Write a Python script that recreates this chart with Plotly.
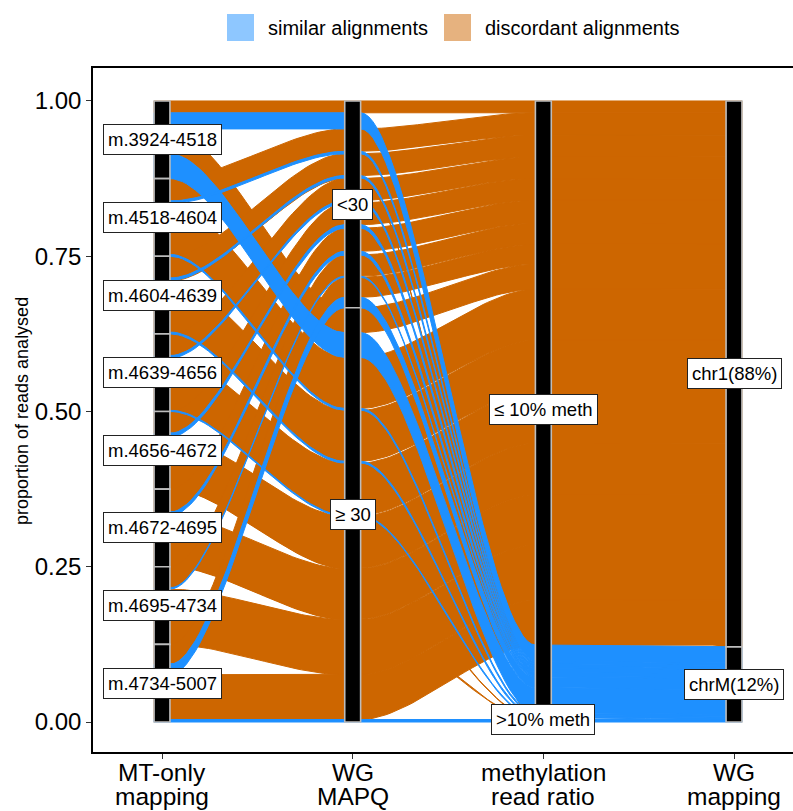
import numpy as np
import plotly.graph_objects as go

# ---------------- data ----------------
regions = ["m.3924-4518", "m.4518-4604", "m.4604-4639", "m.4639-4656",
           "m.4656-4672", "m.4672-4695", "m.4695-4734", "m.4734-5007"]
mapq_levels = ["<30", "≥ 30"]
meth_levels = ["≤ 10% meth", ">10% meth"]
chr_levels = ["chr1", "chrM"]
axis_titles = [["MT-only", "mapping"], ["WG", "MAPQ"], ["methylation", "read ratio"], ["WG", "mapping"]]
y_ticks = [0.0, 0.25, 0.5, 0.75, 1.0]
y_tick_text = ["0.00", "0.25", "0.50", "0.75", "1.00"]
legend_labels = ["similar alignments", "discordant alignments"]

# one entry per alluvium (region, MAPQ, methylation, WG chromosome, proportion)
alluvium_region = [0, 0, 0, 0,
                   1, 1, 1, 1,
                   2, 2, 2, 2, 2,
                   3, 3, 3, 3,
                   4, 4, 4, 4,
                   5, 5, 5, 5,
                   6, 6, 6,
                   7, 7, 7, 7]
alluvium_mapq = ["<30", "<30", "≥ 30", "≥ 30",
                 "<30", "<30", "≥ 30", "≥ 30",
                 "<30", "<30", "<30", "≥ 30", "≥ 30",
                 "<30", "<30", "≥ 30", "≥ 30",
                 "<30", "<30", "≥ 30", "≥ 30",
                 "<30", "<30", "≥ 30", "≥ 30",
                 "<30", "<30", "≥ 30",
                 "<30", "<30", "≥ 30", "≥ 30"]
alluvium_meth = ["≤ 10% meth", "≤ 10% meth", "≤ 10% meth", "≤ 10% meth",
                 "≤ 10% meth", "≤ 10% meth", "≤ 10% meth", "≤ 10% meth",
                 "≤ 10% meth", "≤ 10% meth", ">10% meth", "≤ 10% meth", "≤ 10% meth",
                 "≤ 10% meth", "≤ 10% meth", "≤ 10% meth", "≤ 10% meth",
                 "≤ 10% meth", "≤ 10% meth", "≤ 10% meth", ">10% meth",
                 "≤ 10% meth", "≤ 10% meth", "≤ 10% meth", ">10% meth",
                 "≤ 10% meth", "≤ 10% meth", "≤ 10% meth",
                 "≤ 10% meth", "≤ 10% meth", "≤ 10% meth", ">10% meth"]
alluvium_chr = ["chr1", "chrM", "chr1", "chrM",
                "chr1", "chrM", "chr1", "chrM",
                "chr1", "chrM", "chr1", "chr1", "chrM",
                "chr1", "chrM", "chr1", "chrM",
                "chr1", "chrM", "chr1", "chr1",
                "chr1", "chrM", "chr1", "chr1",
                "chr1", "chrM", "chr1",
                "chr1", "chrM", "chr1", "chrM"]
alluvium_prop = [0.019, 0.026, 0.040, 0.040,
                 0.036, 0.004, 0.082, 0.003,
                 0.035, 0.004, 0.001, 0.082, 0.003,
                 0.035, 0.004, 0.084, 0.002,
                 0.035, 0.006, 0.083, 0.001,
                 0.037, 0.006, 0.081, 0.001,
                 0.034, 0.002, 0.089,
                 0.032, 0.017, 0.072, 0.004]

# ---------------- styling ----------------
COL_SIM = "#1E90FF"
COL_DIS = "#CD6600"
KEY_SIM = "#8EC7FF"
KEY_DIS = "#E6B27F"
FONT = "Liberation Sans, Arial, sans-serif"
W, H = 793, 811
ML, MR, MT, MB = 93, 0, 68, 59
X_RANGE = [0.6381, 4.3094]
Y_RANGE = [-0.0483, 1.0531]
STRATUM_W = 1 / 12

# ---------------- lode positions (ggalluvial-like zigzag ordering) ----------------
levels = [regions, mapq_levels, meth_levels, chr_levels]
idx = np.array([[alluvium_region[a], mapq_levels.index(alluvium_mapq[a]),
                 meth_levels.index(alluvium_meth[a]), chr_levels.index(alluvium_chr[a])]
                for a in range(len(alluvium_prop))])
w = np.array(alluvium_prop)
N, NA = len(w), 4


def zigzag(n, i):
    r1, r2 = i, n - 1 - i
    order = [i]
    left, right = i - 1, i + 1
    right_first = r1 > r2
    while left >= 0 or right < n:
        if right_first:
            if right < n:
                order.append(right); right += 1
            if left >= 0:
                order.append(left); left -= 1
        else:
            if left >= 0:
                order.append(left); left -= 1
            if right < n:
                order.append(right); right += 1
    return order


ymax = np.zeros((N, NA))
ymin = np.zeros((N, NA))
for i in range(NA):
    ax_order = zigzag(NA, i)
    order = sorted(range(N), key=lambda a: tuple(idx[a][j] for j in ax_order) + (a,))
    top = 1.0
    for a in order:
        ymax[a, i] = top
        top -= w[a]
        ymin[a, i] = top


def curve(x0, y0, x1, y1, k=0.3, n=40):
    t = np.linspace(0, 1, n)
    dx = x1 - x0
    px = [x0, x0 + k * dx, x1 - k * dx, x1]
    py = [y0, y0, y1, y1]
    bx = (1 - t) ** 3 * px[0] + 3 * (1 - t) ** 2 * t * px[1] + 3 * (1 - t) * t ** 2 * px[2] + t ** 3 * px[3]
    by = (1 - t) ** 3 * py[0] + 3 * (1 - t) ** 2 * t * py[1] + 3 * (1 - t) * t ** 2 * py[2] + t ** 3 * py[3]
    return list(bx), list(by)


def edge(ys):
    xs_out, ys_out = [], []
    hw = STRATUM_W / 2
    for i in range(NA):
        xs_out += [i + 1 - hw, i + 1 + hw]
        ys_out += [ys[i], ys[i]]
        if i < NA - 1:
            cx, cy = curve(i + 1 + hw, ys[i], i + 2 - hw, ys[i + 1])
            xs_out += cx[1:-1]
            ys_out += cy[1:-1]
    return xs_out, ys_out


fig = go.Figure()
# draw discordant first, similar on top
for chrom_i in [0, 1]:
    for a in range(N):
        if idx[a][3] != chrom_i:
            continue
        tx, ty = edge(ymax[a])
        bx, by = edge(ymin[a])
        xs = tx + bx[::-1] + [tx[0]]
        ys = ty + by[::-1] + [ty[0]]
        col = COL_SIM if chrom_i == 1 else COL_DIS
        fig.add_trace(go.Scatter(x=xs, y=ys, fill="toself", mode="lines",
                                 line=dict(color=col, width=1.0),
                                 fillcolor=col, hoverinfo="skip", showlegend=False))

# strata and their labels
shapes = []
annotations = []
hw = STRATUM_W / 2
for i in range(NA):
    for s, lev in enumerate(levels[i]):
        m = idx[:, i] == s
        if not m.any():
            continue
        lo, hi = ymin[m, i].min(), ymax[m, i].max()
        shapes.append(dict(type="rect", xref="x", yref="y", x0=i + 1 - hw, x1=i + 1 + hw,
                           y0=lo, y1=hi, fillcolor="black",
                           line=dict(color="#BDBDBD", width=1.6), layer="above"))
        label = lev
        if i == 3:
            label = f"{lev}({round(100 * w[m].sum()):d}%)"
        annotations.append(dict(x=i + 1, y=(lo + hi) / 2, xref="x", yref="y", text=label,
                                showarrow=False, bgcolor="white", bordercolor="#222222",
                                borderwidth=1, borderpad=4,
                                xanchor="center", yanchor="middle",
                                font=dict(family=FONT, size=18.5, color="black")))


def px_to_paper_x(px):
    return (px - ML) / (W - ML - MR)


def px_to_paper_y(py):
    return 1 - (py - MT) / (H - MT - MB)


# x-axis category labels (two lines, ggplot-like tight line spacing)
for i, (l1, l2) in enumerate(axis_titles):
    for line_txt, yc in [(l1, 772), (l2, 796)]:
        annotations.append(dict(x=i + 1, y=px_to_paper_y(yc), xref="x", yref="paper",
                                text=line_txt, showarrow=False, xanchor="center", yanchor="middle",
                                font=dict(family=FONT, size=24.5, color="black")))

# legend (drawn in paper coordinates)
for key_col, x0, lab, tx in [(KEY_SIM, 227, legend_labels[0], 266), (KEY_DIS, 444, legend_labels[1], 483)]:
    shapes.append(dict(type="rect", xref="paper", yref="paper",
                       x0=px_to_paper_x(x0), x1=px_to_paper_x(x0 + 27),
                       y0=px_to_paper_y(41), y1=px_to_paper_y(14),
                       fillcolor=key_col, line=dict(width=0)))
    annotations.append(dict(x=px_to_paper_x(tx), y=px_to_paper_y(27.5), xref="paper", yref="paper",
                            text=lab, showarrow=False, xanchor="left", yanchor="middle",
                            font=dict(family=FONT, size=20, color="black")))

# y-axis title
annotations.append(dict(x=px_to_paper_x(22), y=px_to_paper_y(411), xref="paper", yref="paper",
                        text="proportion of reads analysed", textangle=-90, showarrow=False,
                        xanchor="center", yanchor="middle",
                        font=dict(family=FONT, size=18, color="black")))

fig.update_layout(
    width=W, height=H,
    margin=dict(l=ML, r=MR, t=MT, b=MB, pad=0, autoexpand=False),
    paper_bgcolor="white", plot_bgcolor="white",
    shapes=shapes, annotations=annotations, showlegend=False,
    xaxis=dict(range=X_RANGE, tickvals=[1, 2, 3, 4], showticklabels=False, automargin=False,
               showgrid=False, zeroline=False, showline=True, linecolor="black", linewidth=1.6,
               mirror=True, ticks="outside", ticklen=5, tickcolor="#333333", tickwidth=1.2),
    yaxis=dict(range=Y_RANGE, tickvals=y_ticks, ticktext=y_tick_text, automargin=False,
               showgrid=False, zeroline=False, showline=True, linecolor="black", linewidth=1.6,
               ticks="outside", ticklen=5, tickcolor="#333333", tickwidth=1.2,
               tickfont=dict(family=FONT, size=24, color="black")),
)

fig.write_html("out.html", config={"displayModeBar": False},
               post_script="document.body.style.margin='0px';document.body.style.padding='0px';")
